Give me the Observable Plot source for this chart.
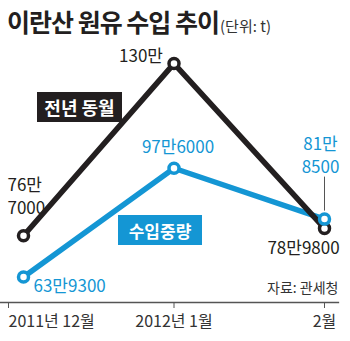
<!DOCTYPE html>
<html><head><meta charset="utf-8">
<script src="https://cdn.jsdelivr.net/npm/d3@7"></script>
<script src="https://cdn.jsdelivr.net/npm/@observablehq/plot@0.6"></script>
<style>
body{margin:0;background:#fff;font-family:"Noto Sans CJK KR",sans-serif;}
#wrap{position:relative;width:350px;height:341px;overflow:hidden;}
#wrap svg{position:absolute;left:0;top:0;}
#title{position:absolute;left:7px;top:9px;font-size:25px;line-height:1;font-weight:700;color:#231f20;letter-spacing:-1px;white-space:nowrap;}
#title span{font-size:15px;font-weight:400;letter-spacing:0;color:#333;margin-left:1px;}
.tag{position:absolute;color:#fff;font-weight:700;font-size:18px;text-align:center;display:flex;align-items:center;justify-content:center;}
</style></head>
<body>
<div id="wrap">
  <div id="title">이란산 원유 수입 추이<span>(단위: t)</span></div>
</div>
<script>
const months = ["2011년 12월", "2012년 1월", "2월"];
const prevYear = [767000, 1300000, 789800];
const imports = [639300, 976000, 818500];
const prevLabels = ["76만\n7000", "130만", "78만9800"];
const importLabels = ["63만9300", "97만6000", "81만\n8500"];
const seriesNames = ["전년 동월", "수입중량"];
const source = "자료: 관세청";

const BLACK = "#231f20", BLUE = "#1496d4";
const rows = months.map((m, i) => ({i, m, prev: prevYear[i], imp: imports[i], pl: prevLabels[i], il: importLabels[i]}));
const txt = {fontSize: 17, fontFamily: "Noto Sans CJK KR"};

const chart = Plot.plot({
  width: 350, height: 341,
  marginLeft: 0, marginRight: 12, marginTop: 0, marginBottom: 39,
  style: {fontFamily: "Noto Sans CJK KR", background: "transparent"},
  x: {type: "linear", domain: [0, 2], range: [23, 324], axis: null, label: null},
  y: {domain: [600000, 1300000], range: [289.2, 63.1], axis: null, label: null},
  marks: [
    Plot.frame({anchor: "bottom", stroke: "#555", strokeWidth: 1.3}),
    Plot.axisX({ticks: [0], label: null, tickSize: 6, tickPadding: 7, stroke: "#555", tickFormat: i => months[i], textAnchor: "start", dx: -15, fontSize: 16, fill: "#333"}),
    Plot.axisX({ticks: [1, 2], label: null, tickSize: 6, tickPadding: 7, stroke: "#555", tickFormat: i => months[i], fontSize: 16, fill: "#333"}),
    Plot.text([source], {text: d => d, frameAnchor: "bottom-right", dy: -14, lineAnchor: "middle", fontSize: 14, fill: "#333"}),
    Plot.ruleX([rows[2]], {x: "i", y1: "imp", y2: "imp", insetTop: -42, insetBottom: 8, stroke: "#555", strokeWidth: 1}),
    Plot.line(rows, {x: "i", y: "imp", stroke: BLUE, strokeWidth: 5.5}),
    Plot.line(rows, {x: "i", y: "prev", stroke: BLACK, strokeWidth: 5.5}),
    Plot.dot(rows, {x: "i", y: "prev", r: 5, fill: "white", stroke: BLACK, strokeWidth: 3.5}),
    Plot.dot(rows, {x: "i", y: "imp", r: 5, fill: "white", stroke: BLUE, strokeWidth: 3.5}),
    Plot.text([rows[0]], {x: "i", y: "prev", text: "pl", textAnchor: "start", dx: -16, dy: -41, lineAnchor: "middle", lineHeight: 1.35, fill: BLACK, ...txt}),
    Plot.text([rows[1]], {x: "i", y: "prev", text: "pl", textAnchor: "end", dx: -11, dy: -7, lineAnchor: "middle", fill: BLACK, ...txt}),
    Plot.text([rows[2]], {x: "i", y: "prev", text: "pl", textAnchor: "middle", dx: -21, dy: 20, lineAnchor: "middle", fill: BLACK, ...txt}),
    Plot.text([rows[0]], {x: "i", y: "imp", text: "il", textAnchor: "start", dx: 10, dy: 10, lineAnchor: "middle", fill: BLUE, ...txt}),
    Plot.text([rows[1]], {x: "i", y: "imp", text: "il", textAnchor: "middle", dx: 4, dy: -21, lineAnchor: "middle", fill: BLUE, ...txt}),
    Plot.text([rows[2]], {x: "i", y: "imp", text: "il", textAnchor: "middle", dx: -4, dy: -65, lineAnchor: "middle", lineHeight: 1.35, fill: BLUE, ...txt})
  ]
});
const wrap = document.getElementById("wrap");
wrap.insertBefore(chart, wrap.firstChild);

const t1 = document.createElement("div");
t1.className = "tag"; t1.textContent = seriesNames[0];
Object.assign(t1.style, {left: "37px", top: "92px", width: "85px", height: "30px", background: BLACK});
const t2 = document.createElement("div");
t2.className = "tag"; t2.textContent = seriesNames[1];
Object.assign(t2.style, {left: "118px", top: "215px", width: "84px", height: "30px", background: BLUE, fontSize: "17px"});
wrap.appendChild(t1); wrap.appendChild(t2);
</script>
</body></html>
